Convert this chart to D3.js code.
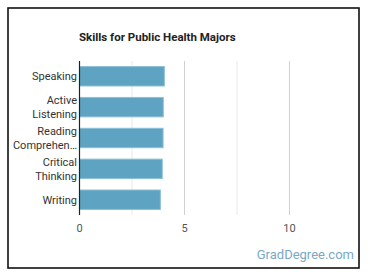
<!DOCTYPE html>
<html>
<head>
<meta charset="utf-8">
<script src="https://cdn.jsdelivr.net/npm/d3@7"></script>
<style>
body { margin: 0; background: #fff; }
svg { font-family: Roboto, "Open Sans", sans-serif; }
</style>
</head>
<body>
<div id="chart"></div>
<script>
// data
const skills = ["Speaking", "Active Listening", "Reading Comprehen…", "Critical Thinking", "Writing"];
const labelLines = [["Speaking"], ["Active", "Listening"], ["Reading", "Comprehen…"], ["Critical", "Thinking"], ["Writing"]];
const scores = [4.04, 3.99, 3.98, 3.94, 3.85];
const gridTicks = [0, 2.5, 5, 7.5, 10];
const labelTicks = [0, 5, 10];

const width = 370, height = 278;
const svg = d3.select("#chart").append("svg").attr("width", width).attr("height", height);

// frame
svg.append("rect").attr("x", 8).attr("y", 8).attr("width", 351).attr("height", 260)
    .attr("fill", "#fff").attr("stroke", "#111").attr("stroke-width", 1.6);

const plotLeft = 79.5, plotTop = 61, plotBottom = 215;
const x = d3.scaleLinear().domain([0, 12.5]).range([plotLeft, plotLeft + 262.5]);
const y = d3.scaleBand().domain(skills).range([plotTop, plotBottom]).paddingInner(0.37).paddingOuter(0.18);

// title
svg.append("text").attr("x", 79).attr("y", 41).attr("font-size", 11.5).attr("font-weight", "bold")
    .attr("fill", "#222").text("Skills for Public Health Majors");

// grid
svg.append("g").selectAll("line").data(gridTicks.filter(d => d > 0)).enter().append("line")
    .attr("x1", d => x(d)).attr("x2", d => x(d)).attr("y1", plotTop).attr("y2", plotBottom)
    .attr("stroke", d => d % 5 === 0 ? "#d0d0d0" : "#e8e8e8").attr("stroke-width", 1);

// bars
svg.append("g").selectAll("rect").data(scores).enter().append("rect")
    .attr("x", x(0)).attr("y", (d, i) => y(skills[i]))
    .attr("width", d => x(d) - x(0)).attr("height", y.bandwidth())
    .attr("fill", "#5ea3c1").attr("stroke", "#8cc0d6").attr("stroke-width", 1);

// axis line
svg.append("line").attr("x1", x(0)).attr("x2", x(0)).attr("y1", plotTop).attr("y2", plotBottom)
    .attr("stroke", "#222").attr("stroke-width", 1.2);

// category labels
const lab = svg.append("g").selectAll("text").data(labelLines).enter().append("text")
    .attr("text-anchor", "end").attr("font-size", 11).attr("fill", "#333")
    .attr("transform", (d, i) => "translate(77," + (y(skills[i]) + y.bandwidth() / 2) + ")");
lab.selectAll("tspan").data(d => d.map((t, k) => [t, k, d.length])).enter().append("tspan")
    .attr("x", 0).attr("y", d => (d[1] - (d[2] - 1) / 2) * 14 + 4).text(d => d[0]);

// x tick labels
svg.append("g").selectAll("text").data(labelTicks).enter().append("text")
    .attr("x", d => x(d)).attr("y", 232).attr("text-anchor", "middle")
    .attr("font-size", 11).attr("fill", "#555").text(d => d);

// watermark
svg.append("text").attr("x", 354).attr("y", 259).attr("text-anchor", "end")
    .attr("font-size", 13).attr("fill", "#7aa8c6").text("GradDegree.com");
</script>
</body>
</html>
